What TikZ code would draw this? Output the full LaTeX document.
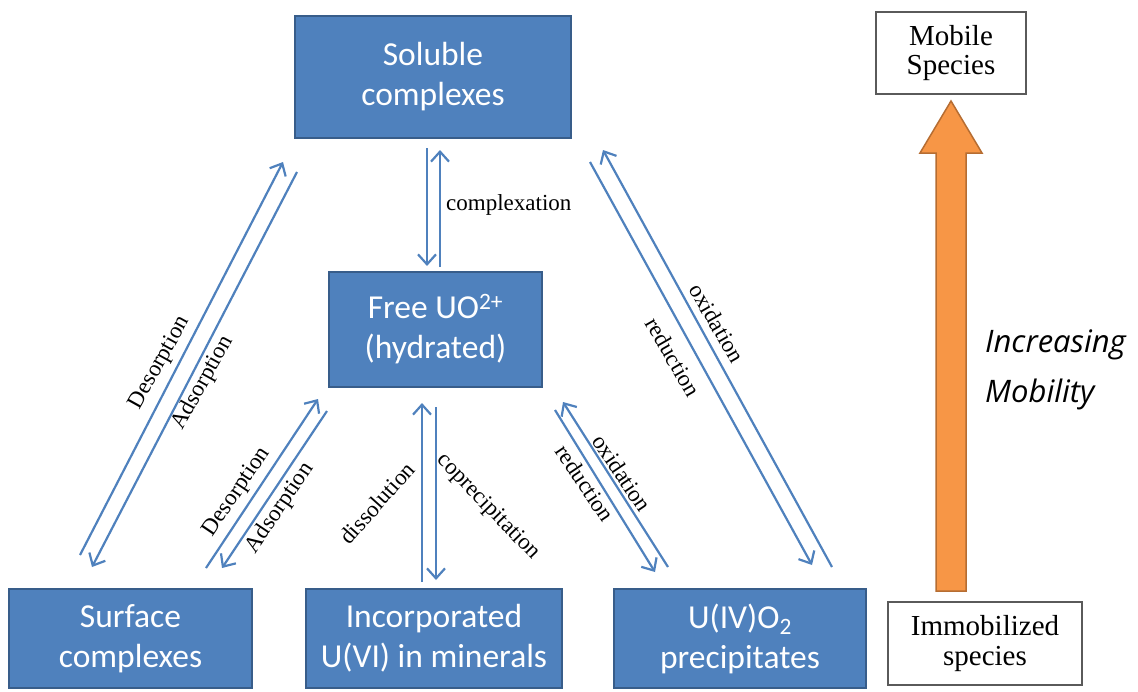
\documentclass[tikz,border=0pt]{standalone}
\usepackage{fontspec}
\setmainfont{Liberation Serif}
\newfontfamily\calib{Carlito}
\newfontfamily\handf{Open Sans}
\usetikzlibrary{arrows.meta}
\definecolor{bluefill}{RGB}{79,129,189}
\definecolor{blueedge}{RGB}{56,93,138}
\definecolor{arrowblue}{RGB}{79,129,189}
\definecolor{orangefill}{RGB}{247,150,70}
\definecolor{orangeedge}{RGB}{182,109,50}
\definecolor{grayedge}{RGB}{90,90,90}
\begin{document}
\begin{tikzpicture}[x=1pt,y=-1pt,
 bluebox/.style={draw=blueedge, line width=1.5pt, fill=bluefill, text=white,
   font=\calib\fontsize{33.5}{40}\selectfont, align=center, inner sep=0pt},
 whitebox/.style={draw=grayedge, line width=1.2pt, fill=white,
   font=\fontsize{29}{29.5}\selectfont, align=center, inner sep=0pt},
 lbl/.style={font=\fontsize{23}{25}\selectfont, inner sep=0pt},
 flow/.style={draw=arrowblue, line width=2.2pt, -{Straight Barb[length=10pt,width=18pt]}},
 hand/.style={font=\handf\itshape\fontsize{31}{35}\selectfont, inner sep=0pt, anchor=base west},
]
\useasboundingbox (0,0) rectangle (1138,691);

% main boxes
\node[bluebox, minimum width=276pt, minimum height=122pt] (sol) at (433,77) {Soluble\\complexes};
\node[bluebox, minimum width=213pt, minimum height=115pt] (free) at (435.5,329.5) {Free UO\textsuperscript{2+}\\(hydrated)};
\node[bluebox, minimum width=243pt, minimum height=99pt] (surf) at (130.5,638.5) {Surface\\complexes};
\node[bluebox, minimum width=256pt, minimum height=99pt] (inc) at (434,638.5) {Incorporated\\U(VI) in minerals};
\node[bluebox, minimum width=252pt, minimum height=99pt] (u4) at (740,638.5) {U(IV)O\textsubscript{2}\\precipitates};

% side boxes
\node[whitebox, minimum width=150pt, minimum height=82pt] (mob) at (951,53) {Mobile\\Species};
\node[whitebox, minimum width=194pt, minimum height=83pt] (imm) at (985,643.5) {Immobilized\\species};

% orange arrow
\draw[fill=orangefill, draw=orangeedge, line width=1.5pt, line join=miter]
  (936,591) -- (936,153) -- (920,153) -- (951,101) -- (982,153) -- (966,153) -- (966,591) -- cycle;
\node[hand] (im1) at (985,352) {Increasing};
\node[hand] (im2) at (985,402) {Mobility};

% connector end points
\coordinate (a1) at (427,148); \coordinate (a2) at (427,266);
\coordinate (b1) at (440,267); \coordinate (b2) at (440,150);
\coordinate (c1) at (422,582); \coordinate (c2) at (422,403);
\coordinate (d1) at (436,407); \coordinate (d2) at (436,580);
\coordinate (e1) at (80,555);  \coordinate (e2) at (283,162);
\coordinate (f1) at (297,172); \coordinate (f2) at (92,567);
\coordinate (g1) at (206,568); \coordinate (g2) at (318,399);
\coordinate (h1) at (327,411); \coordinate (h2) at (222,568);
\coordinate (i1) at (832,567); \coordinate (i2) at (603,150);
\coordinate (j1) at (590,162); \coordinate (j2) at (812,565);
\coordinate (k1) at (668,567); \coordinate (k2) at (563,402);
\coordinate (m1) at (555,410); \coordinate (m2) at (655,572);

\draw[flow] (a1) -- (a2);
\draw[flow] (b1) -- (b2);
\draw[flow] (c1) -- (c2);
\draw[flow] (d1) -- (d2);
\draw[flow] (e1) -- (e2);
\draw[flow] (f1) -- (f2);
\draw[flow] (g1) -- (g2);
\draw[flow] (h1) -- (h2);
\draw[flow] (i1) -- (i2);
\draw[flow] (j1) -- (j2);
\draw[flow] (k1) -- (k2);
\draw[flow] (m1) -- (m2);

% labels
\node[lbl, anchor=base west] (lcx) at (446,210) {complexation};
\node[lbl, rotate=61] (l1) at (160,363) {Desorption};
\node[lbl, rotate=61] (l2) at (203,383) {Adsorption};
\node[lbl, rotate=56] (l3) at (237,492) {Desorption};
\node[lbl, rotate=56] (l4) at (280,508) {Adsorption};
\node[lbl, rotate=48] (l5) at (377,503) {dissolution};
\node[lbl, rotate=-46] (l6) at (488,507) {coprecipitation};
\node[lbl, rotate=-60] (l7) at (717,323) {oxidation};
\node[lbl, rotate=-60] (l8) at (673,357) {reduction};
\node[lbl, rotate=-56] (l9) at (622,473) {oxidation};
\node[lbl, rotate=-56] (l10) at (585,483) {reduction};
\end{tikzpicture}
\end{document}
